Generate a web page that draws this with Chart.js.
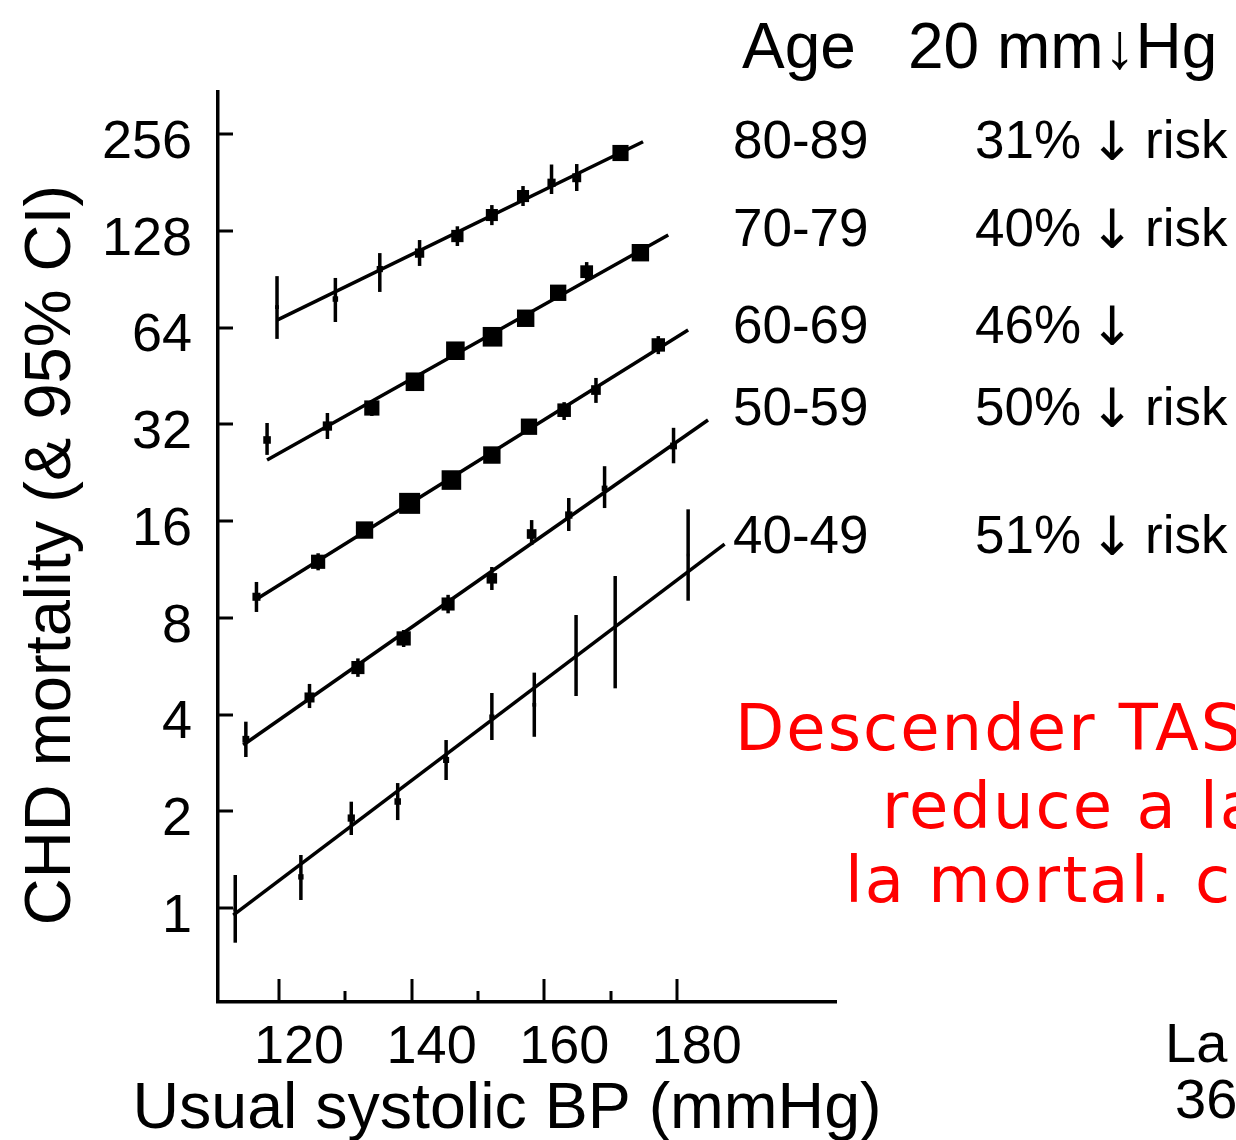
<!DOCTYPE html>
<html>
<head>
<meta charset="utf-8">
<script src="https://cdn.jsdelivr.net/npm/chart.js@4"></script>
<style>
  html, body { margin: 0; padding: 0; background: #fff; }
  #wrap { width: 1236px; height: 1140px; }
</style>
</head>
<body>
<div id="wrap"><canvas id="chd" width="1236" height="1140"></canvas></div>
<script>
// Usual systolic BP (mmHg) vs CHD mortality, one series per age band
const ages = ['80-89', '70-79', '60-69', '50-59', '40-49'];
const riskPct = ['31%', '40%', '46%', '50%', '51%'];
const riskWord = ['risk', 'risk', '', 'risk', 'risk'];

const bp8089 = [119.7, 128.5, 135.2, 141.2, 146.9, 152.1, 156.8, 161.1, 164.9, 171.5];
const mort8089 = [74.1, 78.5, 97.3, 109.1, 123.3, 143.3, 164.2, 180.6, 187.2, 223.5];
const lo8089 = [59.0, 66.6, 82.6, 99.5, 114.8, 133.3, 152.9, 166.6, 170.2, 211.0];
const hi8089 = [92.5, 91.3, 109.1, 119.8, 132.2, 153.9, 176.4, 205.8, 206.5, 234.9];

const bp7079 = [118.2, 127.3, 134.0, 140.5, 146.6, 152.2, 157.2, 162.1, 166.4, 174.5];
const mort7079 = [28.6, 31.6, 35.96, 43.4, 54.2, 59.9, 68.4, 82.1, 95.5, 109.4];
const lo7079 = [25.7, 28.8, 33.97, 41.42, 51.73, 57.31, 65.08, 77.86, 89.3, 104.1];
const hi7079 = [32.3, 34.7, 38.07, 45.47, 56.79, 62.6, 71.89, 86.57, 102.3, 115.0];

const bp6069 = [116.6, 125.9, 132.9, 139.7, 146.0, 152.1, 157.7, 163.0, 167.8, 177.2];
const mort6069 = [9.30, 11.95, 15.0, 18.16, 21.46, 25.67, 31.45, 35.4, 40.9, 56.5];
const lo6069 = [8.34, 11.24, 14.27, 17.45, 20.53, 24.42, 29.82, 33.0, 37.3, 52.9];
const hi6069 = [10.34, 12.70, 15.77, 18.90, 22.43, 26.98, 33.16, 37.5, 44.6, 60.2];

const bp5059 = [115.0, 124.6, 131.9, 138.8, 145.5, 152.1, 158.1, 163.7, 169.1, 179.5];
const mort5059 = [3.35, 4.52, 5.60, 6.90, 8.83, 10.61, 14.58, 16.70, 20.2, 27.4];
const lo5059 = [2.95, 4.19, 5.24, 6.49, 8.26, 9.76, 13.47, 14.9, 17.56, 24.2];
const hi5059 = [3.80, 4.98, 5.98, 7.33, 9.43, 11.51, 16.11, 18.87, 23.7, 31.2];

const bp4049 = [113.4, 123.3, 130.9, 137.9, 145.2, 152.1, 158.5, 164.8, 170.7, 181.7];
const mort4049 = [0.99, 1.25, 1.905, 2.145, 2.888, 3.929, 4.29, 6.10, 7.22, 12.54];
const lo4049 = [0.780, 1.059, 1.687, 1.878, 2.502, 3.332, 3.41, 4.567, 4.826, 9.04];
const hi4049 = [1.267, 1.462, 2.142, 2.448, 3.332, 4.667, 5.40, 8.16, 10.79, 17.40];

// fitted log-linear trend per age band: [start, end]
const fitBp = [[119.7, 174.9], [118.2, 178.7], [116.4, 181.7], [114.6, 184.7], [113.1, 187.2]];
const fitMort = [[67.5, 242.2], [24.77, 124.2], [9.08, 62.9], [3.215, 33.0], [0.951, 13.57]];

const yTicks = [1, 2, 4, 8, 16, 32, 64, 128, 256];
const xTicks = [120, 140, 160, 180];
const xMinorTicks = [130, 150, 170];

const groups = [
  { bp: bp8089, mort: mort8089, lo: lo8089, hi: hi8089 },
  { bp: bp7079, mort: mort7079, lo: lo7079, hi: hi7079 },
  { bp: bp6069, mort: mort6069, lo: lo6069, hi: hi6069 },
  { bp: bp5059, mort: mort5059, lo: lo5059, hi: hi5059 },
  { bp: bp4049, mort: mort4049, lo: lo4049, hi: hi4049 }
];

const SANS = '"Liberation Sans", Arial, sans-serif';

const datasets = [];
groups.forEach((g, k) => {
  datasets.push({
    label: ages[k] + ' trend',
    data: fitBp[k].map((x, i) => ({ x, y: fitMort[k][i] })),
    showLine: true, borderColor: '#000', borderWidth: 3.5, pointRadius: 0
  });
  datasets.push({
    label: ages[k],
    data: g.bp.map((x, i) => ({ x, y: g.mort[i], lo: g.lo[i], hi: g.hi[i] })),
    showLine: false, pointStyle: 'rect', backgroundColor: '#000', borderWidth: 0,
    // square area grows as the interval narrows (inverse variance weighting)
    pointRadius: ctx => {
      const p = ctx.raw;
      const w = Math.log2(p.hi) - Math.log2(p.lo);
      return Math.min(21, 2.5 / w) / Math.SQRT2;
    },
    errorBars: true
  });
});

// vertical 95% CI lines
const ciPlugin = {
  id: 'ci',
  afterDatasetsDraw(chart) {
    const { ctx, scales: { x, y } } = chart;
    ctx.save();
    ctx.strokeStyle = '#000';
    ctx.lineWidth = 3.5;
    chart.data.datasets.forEach(ds => {
      if (!ds.errorBars) return;
      ds.data.forEach(p => {
        const px = x.getPixelForValue(p.x);
        ctx.beginPath();
        ctx.moveTo(px, y.getPixelForValue(p.lo));
        ctx.lineTo(px, y.getPixelForValue(p.hi));
        ctx.stroke();
      });
    });
    ctx.restore();
  }
};

// tick marks point into the plot
const innerTicks = {
  id: 'innerTicks',
  afterDraw(chart) {
    const { ctx, scales: { x, y } } = chart;
    ctx.save();
    ctx.strokeStyle = '#000';
    ctx.lineWidth = 3;
    yTicks.forEach(v => {
      const py = Math.round(y.getPixelForValue(v));
      ctx.beginPath(); ctx.moveTo(x.left, py); ctx.lineTo(x.left + 15, py); ctx.stroke();
    });
    xTicks.forEach(v => {
      const px = Math.round(x.getPixelForValue(v));
      ctx.beginPath(); ctx.moveTo(px, y.bottom); ctx.lineTo(px, y.bottom - 23); ctx.stroke();
    });
    xMinorTicks.forEach(v => {
      const px = Math.round(x.getPixelForValue(v));
      ctx.beginPath(); ctx.moveTo(px, y.bottom); ctx.lineTo(px, y.bottom - 11); ctx.stroke();
    });
    ctx.restore();
  }
};

// axis titles, age table and side notes
const textPlugin = {
  id: 'texts',
  afterDraw(chart) {
    const ctx = chart.ctx;
    ctx.save();
    ctx.fillStyle = '#000';
    ctx.textBaseline = 'alphabetic';

    ctx.font = '64.5px ' + SANS;
    ctx.textAlign = 'center';
    ctx.fillText('Usual systolic BP (mmHg)', 507, 1128);
    ctx.save();
    ctx.translate(70, 555);
    ctx.rotate(-Math.PI / 2);
    ctx.font = '65px ' + SANS;
    ctx.fillText('CHD mortality (& 95% CI)', 0, 0);
    ctx.restore();

    ctx.textAlign = 'left';
    ctx.font = '64px ' + SANS;
    ctx.fillText('Age', 742, 68);
    ctx.fillText('20 mm\u2193Hg', 908, 68);

    const rowBase = [158, 246, 343, 425, 553];
    ages.forEach((a, i) => {
      ctx.font = '53px ' + SANS;
      ctx.fillText(a, 733, rowBase[i]);
      ctx.fillText(riskPct[i], 975, rowBase[i]);
      if (riskWord[i]) ctx.fillText(riskWord[i], 1145, rowBase[i]);
      ctx.font = '54px "DejaVu Sans", sans-serif';
      ctx.textAlign = 'center';
      ctx.fillText('\u2193', 1112, rowBase[i] + 2);
      ctx.textAlign = 'left';
    });

    ctx.font = '56px ' + SANS;
    ctx.fillText('La', 1165, 1062);
    ctx.fillText('36', 1175, 1118);

    ctx.fillStyle = '#ff0000';
    ctx.font = '64px "DejaVu Sans", Verdana, sans-serif';
    ctx.letterSpacing = '2px';
    ctx.fillText('Descender TAS', 735, 750);
    ctx.fillText('reduce a la', 882, 828);
    ctx.fillText('la mortal. c', 845, 902);
    ctx.restore();
  }
};

new Chart(document.getElementById('chd'), {
  type: 'scatter',
  data: { datasets },
  options: {
    responsive: false,
    animation: false,
    layout: { padding: { left: 0, top: 92, right: 400, bottom: 0 } },
    plugins: { legend: { display: false }, tooltip: { enabled: false } },
    scales: {
      x: {
        type: 'linear', min: 110.8, max: 204,
        afterBuildTicks: s => { s.ticks = xTicks.map(v => ({ value: v })); },
        afterFit: s => { s.height = 138; },
        grid: { display: false, drawTicks: false },
        border: { display: true, color: '#000', width: 3.5 },
        ticks: { color: '#000', padding: 14, labelOffset: 20, maxRotation: 0,
          font: { family: SANS, size: 54 } }
      },
      y: {
        type: 'logarithmic', min: 0.51, max: 346,
        afterBuildTicks: s => { s.ticks = yTicks.map(v => ({ value: v })); },
        afterFit: s => { s.width = 218; },
        grid: { display: false, drawTicks: false },
        border: { display: true, color: '#000', width: 3.5 },
        ticks: { color: '#000', padding: 26, labelOffset: 9,
          callback: v => String(v),
          font: { family: SANS, size: 54 } }
      }
    }
  },
  plugins: [ciPlugin, innerTicks, textPlugin]
});
</script>
</body>
</html>
